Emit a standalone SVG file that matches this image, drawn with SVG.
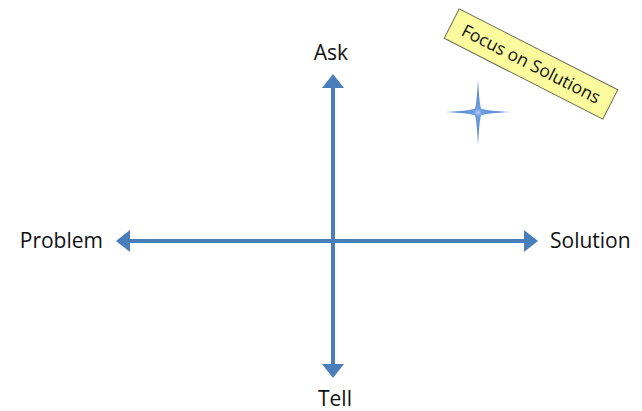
<svg xmlns="http://www.w3.org/2000/svg" width="642" height="411" viewBox="0 0 642 411">
  <style>
    .lbl { font-family: "Open Sans", "Liberation Sans", sans-serif; font-size: 21px; fill: #111; }
    .axis { stroke: #4a7ebb; stroke-width: 4; fill: none; }
    .note { font-family: "Open Sans", "Liberation Sans", sans-serif; font-size: 17.5px; fill: #111; }
  </style>
  <defs>
    <marker id="ah" markerUnits="userSpaceOnUse" markerWidth="16" markerHeight="24" refX="2" refY="12" orient="auto">
      <path d="M0,1 L14,12 L0,23 Z" fill="#4a7ebb"/>
    </marker>
    <radialGradient id="starg" cx="0.5" cy="0.5" r="0.5">
      <stop offset="0" stop-color="#b5cff3"/>
      <stop offset="0.12" stop-color="#6d9ce0"/>
      <stop offset="1" stop-color="#4a7ec8"/>
    </radialGradient>
    <filter id="soft" x="-20%" y="-20%" width="140%" height="140%">
      <feGaussianBlur stdDeviation="0.6"/>
    </filter>
  </defs>
  <rect width="642" height="411" fill="#ffffff"/>

  <g id="connectors">
    <line class="axis" x1="333" y1="362" x2="333" y2="86" marker-end="url(#ah)"/>
    <line class="axis" x1="333" y1="100" x2="333" y2="366" marker-end="url(#ah)"/>
    <line class="axis" x1="333" y1="241" x2="128" y2="241" marker-end="url(#ah)"/>
    <line class="axis" x1="333" y1="241" x2="526" y2="241" marker-end="url(#ah)"/>
  </g>

  <g id="ask"><text class="lbl" x="331" y="60" text-anchor="middle">Ask</text></g>
  <g id="tell"><text class="lbl" x="335" y="406" text-anchor="middle">Tell</text></g>
  <g id="problem"><text class="lbl" x="103" y="248" text-anchor="end">Problem</text></g>
  <g id="solution"><text class="lbl" x="550" y="248">Solution</text></g>

  <g id="star">
    <path d="M478,80 Q479.3,103 481,108.5 Q485,110.7 511,112 Q485,113.3 481,115.5 Q479.3,121 478,145 Q476.7,121 475,115.5 Q471,113.3 445,112 Q471,110.7 475,108.5 Q476.7,103 478,80 Z" fill="url(#starg)" filter="url(#soft)"/>
  </g>

  <g id="focus" transform="translate(531,64) rotate(27)">
    <rect x="-89" y="-16.5" width="178" height="33" fill="#fbfa9c" stroke="#6b6b55" stroke-width="1"/>
    <text class="note" x="0" y="6" text-anchor="middle">Focus on Solutions</text>
  </g>
</svg>
